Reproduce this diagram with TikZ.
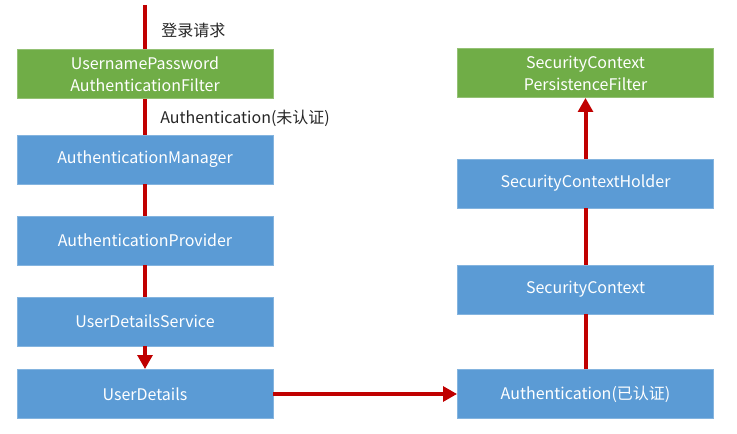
\documentclass[tikz,border=0pt]{standalone}
\usepackage{fontspec}
\setmainfont{Noto Sans CJK SC}
\usepackage{tikz}
\usetikzlibrary{arrows.meta}
\definecolor{fgreen}{HTML}{70AD47}
\definecolor{fblue}{HTML}{5B9BD5}
\definecolor{fline}{HTML}{C00000}

\begin{document}
\begin{tikzpicture}[x=0.75pt,y=0.75pt,font=\fontsize{12}{16.5}\selectfont,
  box/.style={draw=#1!75!white,fill=#1,text=white,line width=0.6pt,
    minimum width=192pt,minimum height=36.75pt,inner sep=0pt,align=center},
  link/.style={fline,line width=3pt},
  tip/.style={link,-{Triangle[length=10.5pt,width=11pt]}}]
  \useasboundingbox (0,0) rectangle (737,434);

  % left column: {name}/{y}/{colour}/{text}
  \foreach \n/\y/\c/\t in {%
    flt/360/fgreen/{UsernamePassword\\AuthenticationFilter},
    mgr/274.5/fblue/{AuthenticationManager},
    prv/193.5/fblue/{AuthenticationProvider},
    uds/112.5/fblue/{UserDetailsService},
    ud/40/fblue/{UserDetails}}{
      \node[box=\c] (\n) at (145,\y) {\t};
  }

  % right column
  \foreach \n/\y/\c/\t in {%
    pflt/361/fgreen/{SecurityContext\\PersistenceFilter},
    holder/250.5/fblue/{SecurityContextHolder},
    ctx/144.5/fblue/{SecurityContext},
    authok/40/fblue/{Authentication(已认证)}}{
      \node[box=\c] (\n) at (585.5,\y) {\t};
  }

  % labels
  \node[right,inner sep=0pt,text=black!85] (reqlbl) at (161,404) {登录请求};
  \node[right,inner sep=0pt,text=black!85] (authlbl) at (160,316) {Authentication(未认证)};

  % connectors
  \coordinate (req) at (145,429);
  \draw[link] (req) -- (flt);
  \draw[link] (flt) -- (mgr);
  \draw[link] (mgr) -- (prv);
  \draw[link] (prv) -- (uds);
  \draw[tip] (uds) -- (ud);
  \draw[tip] (ud) -- (authok);
  \draw[link] (authok) -- (ctx);
  \draw[link] (ctx) -- (holder);
  \draw[tip] (holder) -- (pflt);
\end{tikzpicture}
\end{document}
